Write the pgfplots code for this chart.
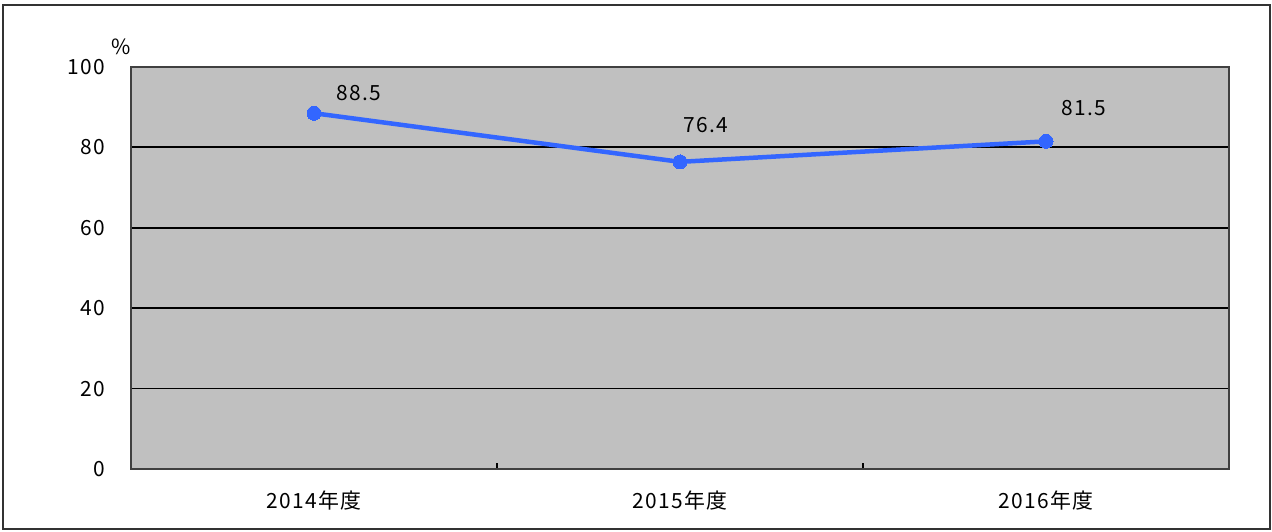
\documentclass[border=0pt]{standalone}
\usepackage{pgfplots}
\pgfplotsset{compat=1.18}
\usepackage{fontspec}
\setmainfont{Noto Sans CJK JP}[LetterSpace=7]
\definecolor{plotgray}{RGB}{192,192,192}
\definecolor{lineblue}{RGB}{51,102,255}
\begin{document}
\begin{tikzpicture}[x=1bp,y=1bp]
\useasboundingbox (-131,-63) rectangle (1141,469);
\draw[line width=1.5bp, black!80] (-128,-60) rectangle (1139,464);
\begin{axis}[
  at={(0,0)}, anchor=south west,
  scale only axis,
  width=1098bp, height=402bp,
  xmin=-0.5, xmax=2.5,
  ymin=0, ymax=100,
  axis background/.style={fill=plotgray},
  axis line style={black!75, line width=1.5bp},
  xtick={0,1,2},
  xticklabels={2014年度,2015年度,2016年度},
  minor xtick={0.5,1.5},
  ytick={0,20,40,60,80,100},
  tick pos=left,
  tick align=inside,
  major tick length=0pt,
  minor tick length=6bp,
  minor tick style={line width=1.5bp, black},
  ymajorgrids,
  grid style={black, line width=1.8bp},
  /pgf/number format/assume math mode=true,
  tick label style={font=\fontsize{21}{24}\selectfont},
  yticklabel style={xshift=-22bp},
  xticklabel style={yshift=-18bp},
  clip=false,
]
\addplot[color=lineblue, line width=4.5bp, mark=*, mark size=7bp, mark options={fill=lineblue, draw=lineblue, line width=0pt}]
  coordinates {(0,88.5) (1,76.4) (2,81.5)};
\node[font=\fontsize{21}{24}\selectfont] at ([xshift=45bp,yshift=20bp]axis cs:0,88.5) {88.5};
\node[font=\fontsize{21}{24}\selectfont] at ([xshift=26bp,yshift=37bp]axis cs:1,76.4) {76.4};
\node[font=\fontsize{21}{24}\selectfont] at ([xshift=38bp,yshift=33bp]axis cs:2,81.5) {81.5};
\end{axis}
\node[font=\fontsize{21}{24}\selectfont] at (-10,422) {\%};
\end{tikzpicture}
\end{document}
